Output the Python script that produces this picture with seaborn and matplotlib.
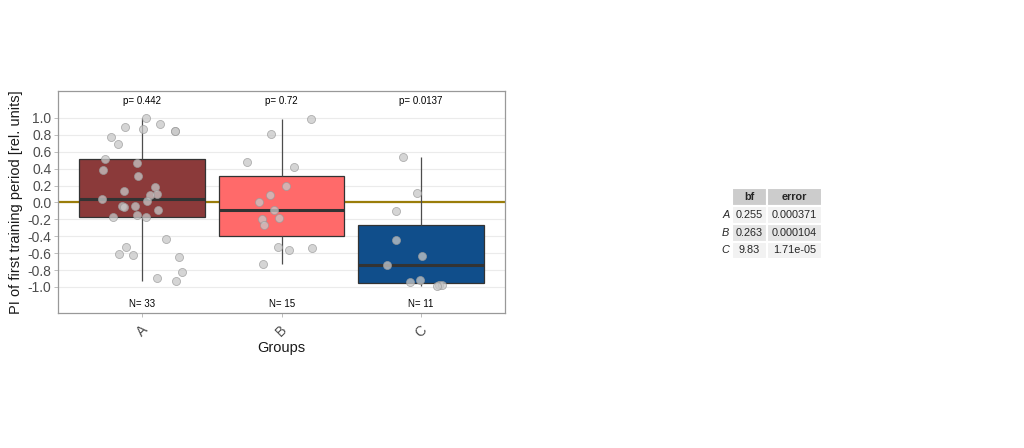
import numpy as np
import pandas as pd
import seaborn as sns
import matplotlib.pyplot as plt

# === DATA ===

#groups and PI values
groups = ['A', 'B', 'C']
pi_a = [1.0, 0.933, 0.893, 0.866, 0.841, 0.841, 0.771, 0.696, 0.514, 0.471,
        0.388, 0.317, 0.183, 0.140, 0.104, 0.089, 0.041, 0.017,
        -0.038, -0.038, -0.058, -0.085, -0.152, -0.168, -0.172, -0.428,
        -0.527, -0.61, -0.626, -0.645, -0.819, -0.89, -0.929]
pi_b = [0.988, 0.814, 0.483, 0.424, 0.199, 0.092, 0.006, -0.093, -0.184,
        -0.2, -0.263, -0.531, -0.535, -0.567, -0.724]
pi_c = [0.538, 0.112, -0.097, -0.444, -0.63, -0.744, -0.921, -0.937,
        -0.977, -0.981, -0.993]

#test results shown above the boxes and in the table
p_values = ['0.442', '0.72', '0.0137']
bf = ['0.255', '0.263', '9.83']
bf_error = ['0.000371', '0.000104', '1.71e-05']

df = pd.DataFrame({'group': ['A'] * len(pi_a) + ['B'] * len(pi_b) + ['C'] * len(pi_c),
                   'pi': pi_a + pi_b + pi_c})
counts = df.groupby('group')['pi'].size()

# === PLOT ===

sns.set_theme(style='white')
plt.rcParams['font.family'] = ['Liberation Sans', 'DejaVu Sans']

palette = {'A': '#8B3A3A', 'B': '#FF6A6A', 'C': '#104E8B'}

fig = plt.figure(figsize=(10.24, 4.48), dpi=100)
ax = fig.add_axes([0.057, 0.301, 0.436, 0.496])

ax.axhline(0, color='#9a7d0a', lw=1.6, zorder=0.9)

sns.boxplot(data=df, x='group', y='pi', hue='group', palette=palette, order=groups,
            width=0.9, showfliers=False, showcaps=False, saturation=1,
            linewidth=0.9, linecolor='#333333', legend=False,
            medianprops={'linewidth': 2.2, 'color': '#333333'},
            whiskerprops={'color': '#4d4d4d'}, ax=ax)

np.random.seed(3)
sns.stripplot(data=df, x='group', y='pi', order=groups, jitter=0.3, size=5.8,
              color='#c8c8c8', edgecolor='#9a9a9a', linewidth=0.6, alpha=0.75,
              zorder=3, ax=ax)

#p-values on top, sample sizes at the bottom
for i, g in enumerate(groups):
  ax.text(i, 1.2, f'p= {p_values[i]}', ha='center', va='center', fontsize=7, color='black')
  ax.text(i, -1.2, f'N= {counts[g]}', ha='center', va='center', fontsize=7, color='black')

ax.set_xlim(-0.6, 2.6)
ax.set_ylim(-1.31, 1.32)
yt = np.round(np.arange(-1.0, 1.01, 0.2), 1) + 0.0
ax.set_yticks(yt)
ax.set_yticklabels([f'{v:.1f}' for v in yt], fontsize=10, color='#4d4d4d')
ax.set_xticks(range(len(groups)))
ax.set_xticklabels(groups, rotation=45, fontsize=10, color='#4d4d4d')
ax.tick_params(axis='both', length=3, width=0.6, color='#b3b3b3', pad=2)
ax.tick_params(axis='x', bottom=True, pad=4)
ax.tick_params(axis='y', left=True)
ax.yaxis.grid(True, color='#ebebeb', lw=0.8)
ax.xaxis.grid(False)
ax.set_axisbelow(True)
for s in ax.spines.values():
  s.set_color('#999999')
  s.set_linewidth(0.9)

ax.set_xlabel('Groups', fontsize=10.5, color='#1a1a1a', labelpad=1)
ax.set_ylabel('PI of first training period [rel. units]', fontsize=10.5, color='#1a1a1a', labelpad=3)

# === BAYES FACTOR TABLE ===

tax = fig.add_axes([0.703, 0.421, 0.0999, 0.159])
tax.axis('off')
rows = [[g, b, e] for g, b, e in zip(groups, bf, bf_error)]
tbl = tax.table(cellText=rows, colLabels=['', 'bf', 'error'], colWidths=[0.114, 0.342, 0.544],
                cellLoc='center', bbox=[0, 0, 1, 1])
tbl.auto_set_font_size(False)
tbl.set_fontsize(7.8)
for (r, c), cell in tbl.get_celld().items():
  cell.set_edgecolor('white')
  cell.set_linewidth(1.5)
  if r == 0:
    cell.set_facecolor('#cccccc' if c > 0 else 'none')
    cell.get_text().set_fontweight('bold')
  elif c == 0:
    cell.set_facecolor('none')
    cell.get_text().set_fontstyle('italic')
  else:
    cell.set_facecolor('#f2f2f2' if r % 2 == 1 else '#e5e5e5')

fig.savefig('out.png', dpi=100)
